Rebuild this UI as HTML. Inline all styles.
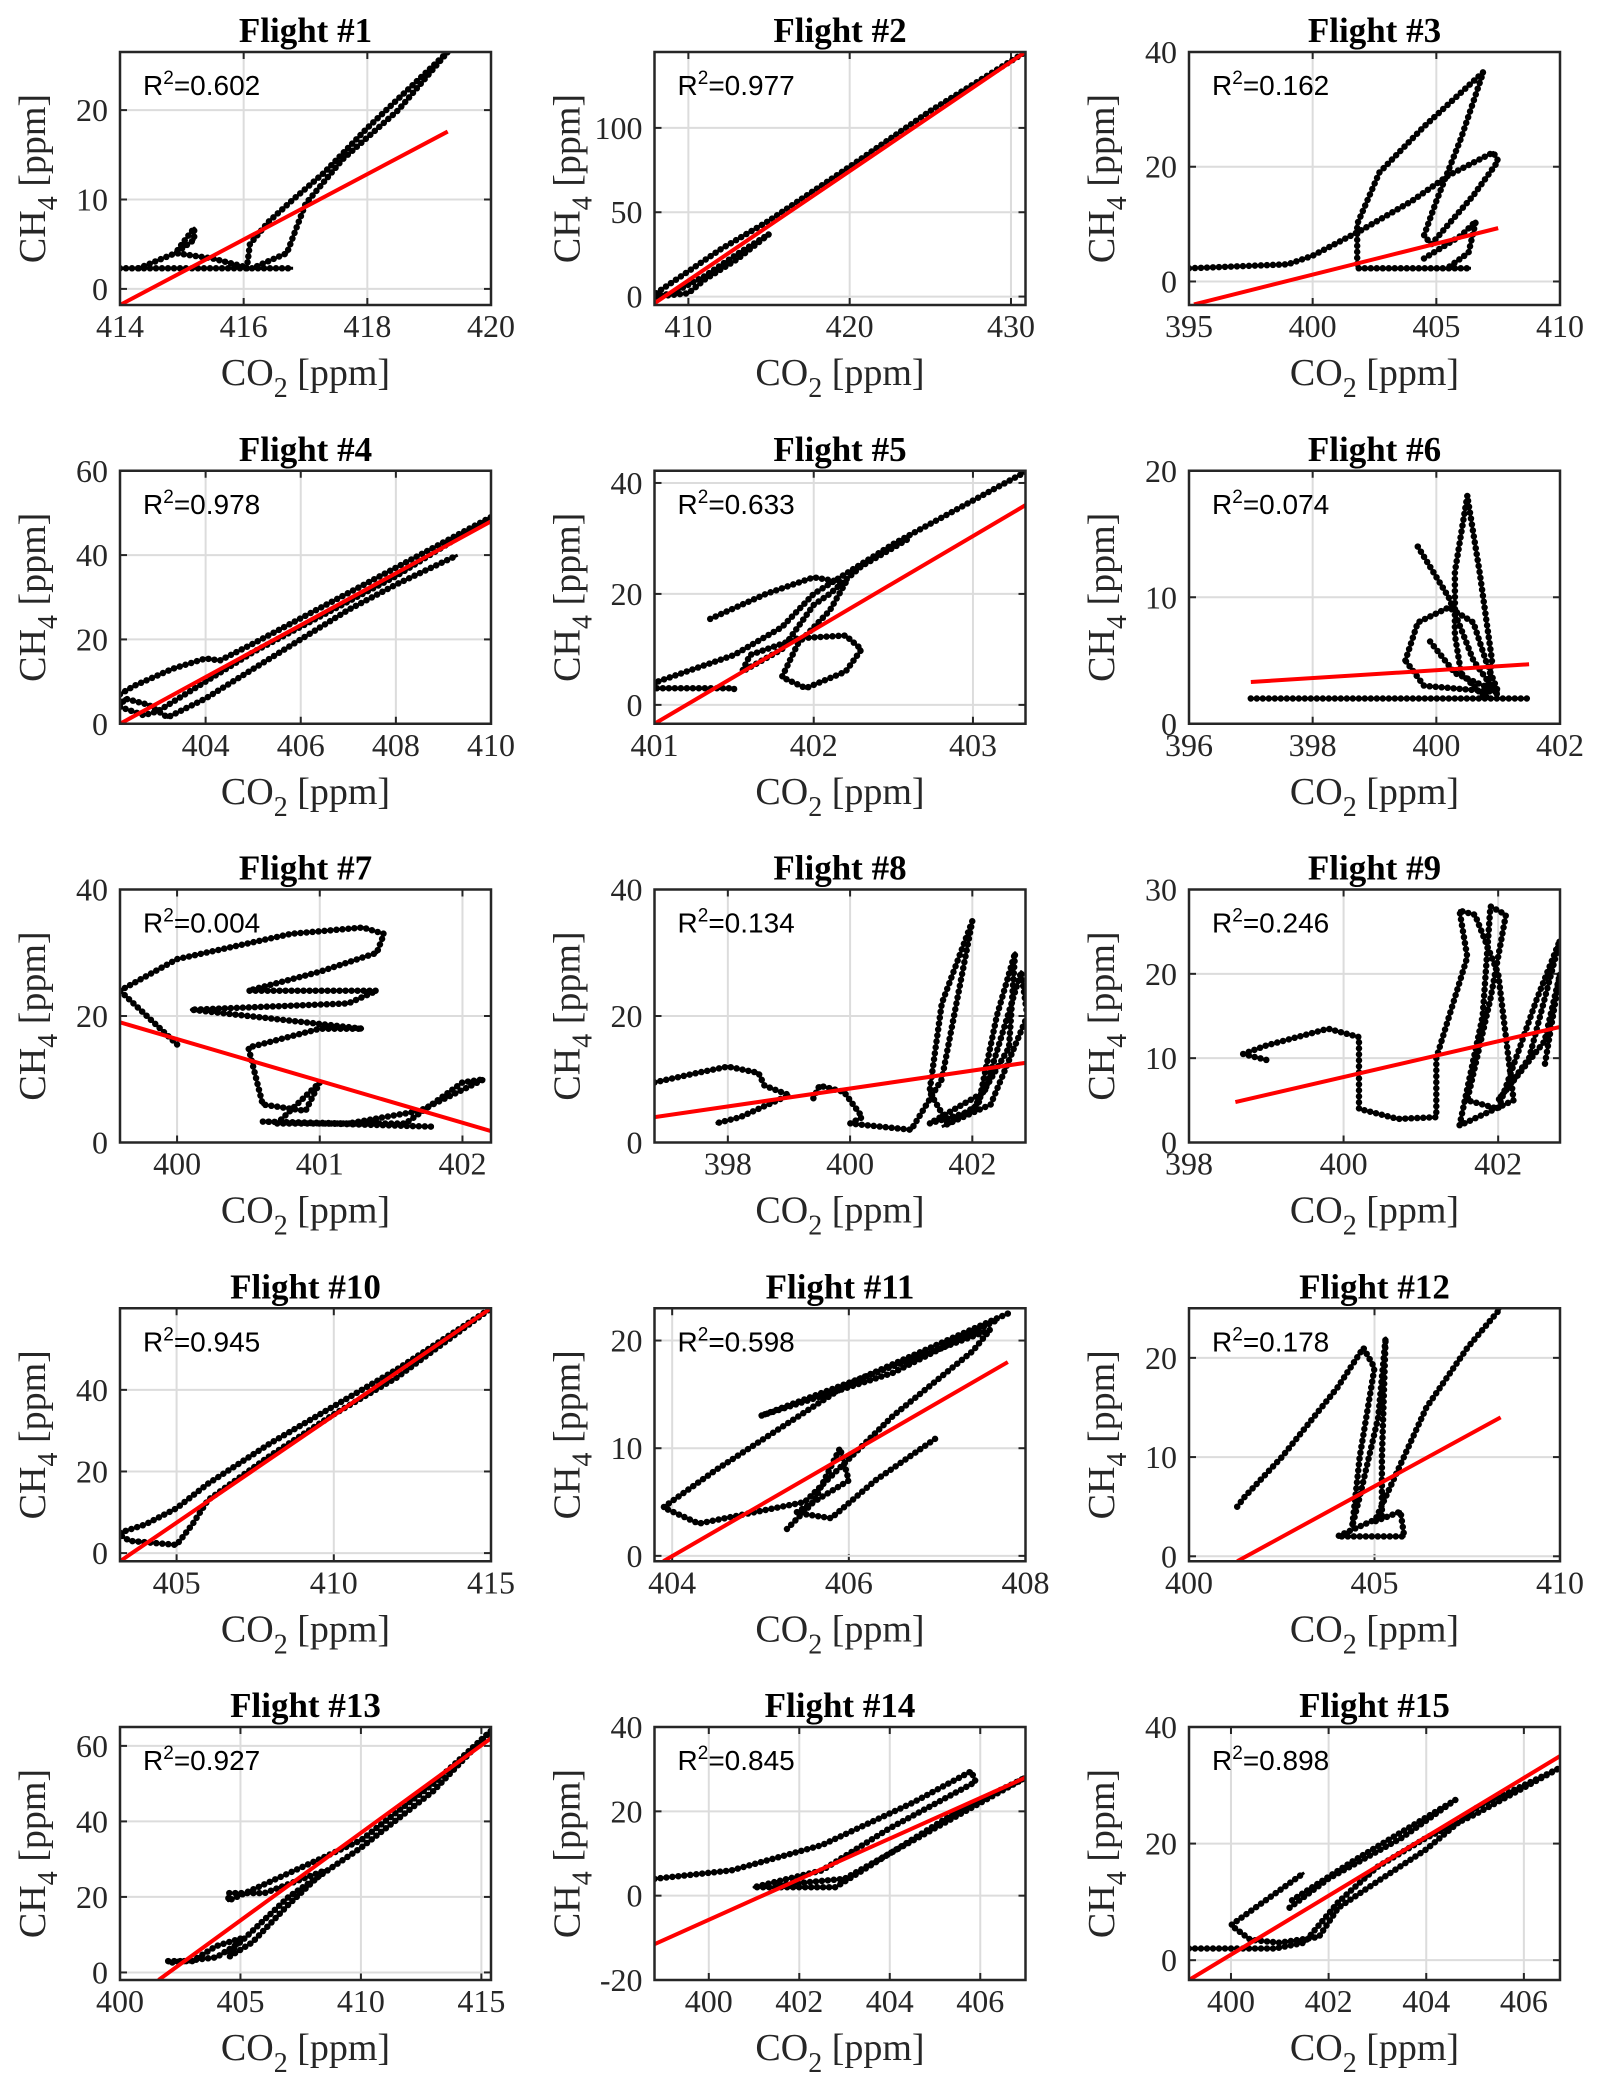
<!DOCTYPE html>
<html><head><meta charset="utf-8">
<style>
html,body{margin:0;padding:0;background:#fff;}
svg{display:block;}
.tit{font-family:"Liberation Serif",serif;font-weight:bold;font-size:35px;fill:#000;text-anchor:middle;}
.tick{font-family:"Liberation Serif",serif;font-size:32px;fill:#262626;}
.lab{font-family:"Liberation Serif",serif;font-size:38px;fill:#262626;}
.r2{font-family:"Liberation Sans","DejaVu Sans",sans-serif;font-size:28px;fill:#000;}
</style></head>
<body>
<svg id="fig" width="1600" height="2093" viewBox="0 0 1600 2093" xmlns="http://www.w3.org/2000/svg"></svg>
<script>
const titles = ["Flight #1","Flight #2","Flight #3","Flight #4","Flight #5","Flight #6","Flight #7","Flight #8","Flight #9","Flight #10","Flight #11","Flight #12","Flight #13","Flight #14","Flight #15"];
const r2Values = ["0.602","0.977","0.162","0.978","0.633","0.074","0.004","0.134","0.246","0.945","0.598","0.178","0.927","0.845","0.898"];
const xLimits = [[414,420],[407.9,430.9],[395,410],[402.2,410],[401,403.33],[396,402],[399.6,402.2],[396.8,402.87],[398,402.8],[403.2,415],[403.8,408],[400,410],[400,415.4],[398.8,407],[399.14,406.74]];
const yLimits = [[-1.8,26.5],[-5,145],[-4.1,40],[0,60],[-3.4,42.2],[0,20],[0,40],[0,40],[0,30],[-2,60],[-0.5,23],[-0.5,25],[-2,65],[-20,40],[-3.4,40]];
const xTicks = [[414,416,418,420],[410,420,430],[395,400,405,410],[404,406,408,410],[401,402,403],[396,398,400,402],[400,401,402],[398,400,402],[398,400,402],[405,410,415],[404,406,408],[400,405,410],[400,405,410,415],[400,402,404,406],[400,402,404,406]];
const yTicks = [[0,10,20],[0,50,100],[0,20,40],[0,20,40,60],[0,20,40],[0,10,20],[0,20,40],[0,20,40],[0,10,20,30],[0,20,40],[0,10,20],[0,10,20],[0,20,40,60],[-20,0,20,40],[0,20,40]];
const fitLines = [[414,-1.8,419.3,17.6],[407.9,-4,430.9,145],[395.2,-4,407.5,9.3],[402.2,0,410,48],[401,-3.4,403.33,36],[397,3.3,401.5,4.7],[399.6,19,402.2,1.8],[396.8,4,402.87,12.6],[398.6,4.8,402.8,13.7],[403.2,-2,415,60],[403.9,-0.5,407.8,18],[401.3,-0.5,408.4,14],[401.6,-2,415.4,62],[398.8,-11.5,407,28],[399.14,-3.4,406.74,35]];
const tracks = [
 [[[414,2.3],[416.8,2.3]],[[414.3,2.3],[414.9,4],[415.2,5.5],[415.2,6.8],[415,5],[414.9,4],[415.5,3.4],[416,2.5]],[[416.05,2.3],[416.1,5],[416.4,7.5],[416.8,10],[417.3,13],[418,18],[419.3,26.5],[418.5,20],[417.6,14.5],[417,9.5],[416.7,4],[416.2,2.5]]],
 [[[408,2],[410,15],[412,28],[415,45],[420,77],[425,110],[430.9,145]],[[408,0],[410,2],[411,10],[413,22],[415,37],[413,25],[411,12],[409,2],[408,0]]],
 [[[395,2.3],[399,3],[400,4.5],[402,9],[404,14],[405.5,18.5],[407.3,22.5],[407.5,21],[406.5,15],[405.5,10],[404.8,6.5],[404.5,8],[405,14],[406,25],[406.9,36.5],[404.5,27],[402.7,19],[401.8,10],[401.8,2.3],[406.4,2.3]],[[404.5,4],[406,8],[406.6,10.5],[406.3,5],[405.5,2.5]]],
 [[[402.2,7],[402.5,9],[403.3,13],[404,15.5],[404.3,15],[405,19],[406,25],[407,31],[408,37],[409,43],[410,49],[409,42],[408,35],[407,29],[406,23],[405,17],[404,10],[403,3],[402.7,2],[402.2,4],[402.3,6],[402.8,4.5],[403.2,1.5],[404,6],[405,13],[406,20],[407,27],[408,33],[409.3,40]]],
 [[[403.33,42],[402.5,29],[402,20],[401.8,14],[401.5,9],[401,4],[401,3],[401.5,3],[401.5,2.5]],[[401.35,15.5],[401.7,20],[402,23],[402.2,22],[402.1,17],[401.9,11],[401.8,5],[401.95,3],[402.2,6],[402.3,10],[402.2,12.5],[401.9,12],[401.6,9],[401.55,6],[401.8,10],[402,18],[402.1,20],[402.3,25],[402.6,30]]],
 [[[397,2],[401.5,2]],[[399.7,14],[400.2,10],[400.6,5],[401,2.2]],[[400.5,18],[400.3,12],[400.3,7],[400.4,4],[400.8,2],[400.9,5],[400.7,12],[400.5,18]],[[399.5,5],[399.7,8],[400.2,9.2],[400.6,8],[400.8,5],[401,2.5],[399.8,3],[399.5,5]],[[399.9,6.5],[400.3,4],[401,2.5]]],
 [[[400,15.5],[399.6,24],[400,29],[400.8,33],[401.3,34],[401.45,33],[401.4,30],[401,27],[400.5,24],[401.4,24],[401.2,22],[400.1,21],[400.5,20],[401.3,18],[401,18],[400.5,15],[400.6,6],[400.9,5],[401,9.5],[400.7,3],[401.6,3],[402,9.5],[402.15,10],[401.7,5],[401.2,3],[400.6,3.3],[401.8,2.5]]],
 [[[396.8,9.5],[397.5,11],[398,12],[398.5,11],[398.6,9],[399,7.5],[398.2,4],[397.8,3]],[[399.4,7],[399.5,9],[399.9,8],[400.2,4],[400,3],[401,2],[401.5,10],[401.8,25],[402,35],[401.5,22],[401.3,8],[401.6,3],[402.1,6],[402.4,20],[402.7,30],[402.6,15],[402,5],[401.3,3],[402.2,8],[402.8,27],[402.9,20],[402.3,6],[401.5,2.5]]],
 [[[399,9.8],[398.7,10.5],[399,11.5],[399.8,13.5],[400.2,12.5],[400.2,8],[400.2,4],[400.7,2.8],[401.2,3],[401.2,10],[401.6,22],[401.5,27.5],[401.7,27],[402,20],[402.2,5],[401.5,2],[401.8,15],[401.9,28],[402.1,27],[401.9,17],[401.6,5],[402,4],[402.5,17],[402.8,24],[402.4,10],[402,5],[402.6,12],[402.8,20],[402.6,9]]],
 [[[403.2,5],[404,7],[405,11],[406,17],[408,27],[410,36],[412,45],[415,60],[412,43],[410,34],[408,24],[406,13],[405.5,7],[405,2],[403.5,3],[403.2,4.5]]],
 [[[407.8,22.5],[406,16],[404.5,8],[403.9,4.5],[404.3,3],[405.5,5],[406.5,13],[407.4,19],[407.6,21],[405,13],[406.5,17],[407.7,22]],[[405.3,2.5],[405.6,5],[405.9,10],[406,7],[405.4,4],[405.8,3.5],[406.3,7],[407,11]]],
 [[[401.3,5],[401.5,6],[402.5,10],[404,17],[404.7,21],[405,19],[404.6,10],[404.4,3],[404.6,6],[405.1,14],[405.3,22],[405.2,10],[405.2,4],[404,2],[405.8,2],[405.7,4.5],[405,3.5],[406.4,15],[407.5,21],[408.4,25]]],
 [[[402,3],[403,3],[404,7],[405,9],[404.5,4],[405.5,8],[407,18],[408.5,27],[406,21],[404.5,21],[404.5,19],[410,35],[413,50],[415.4,64],[413,48],[410,33],[407,20],[405,8],[404,4],[402,2.5]]],
 [[[398.8,4],[400.5,6],[402.5,12],[404.5,22],[405.8,29.5],[405.9,27],[404,16],[402.5,6],[401,2],[402.8,2],[404,10],[405.5,20],[407,28],[405,16],[403,4],[401.5,2.5]]],
 [[[399.14,2],[400.9,2],[401.5,3],[401.8,6],[402.2,10],[403,16],[404,21],[405,25],[406.74,33],[406.5,32],[405,26],[404,19],[403,13.5],[402.2,9],[401.8,4],[401,3],[400.4,3.5],[400,6],[400.5,9],[401.5,15]],[[401.2,9],[402,14],[403.5,21],[404.6,27.5],[403.5,22],[402.5,17],[401.2,10]]]
];

const NS="http://www.w3.org/2000/svg";
const fig=document.getElementById('fig');
function mk(tag,attrs,parent){const e=document.createElementNS(NS,tag);for(const k in attrs)e.setAttribute(k,attrs[k]);parent.appendChild(e);return e;}
const W=371,H=253;
for(let i=0;i<15;i++){
  const col=i%3,row=Math.floor(i/3);
  const L=120+col*534.5,T=52+row*418.75;
  const g=mk('g',{},fig);
  
  
  const [x0,x1]=xLimits[i],[y0,y1]=yLimits[i];
  const sx=v=>L+(v-x0)/(x1-x0)*W;
  const sy=v=>T+H-(v-y0)/(y1-y0)*H;
  xTicks[i].forEach(v=>{const x=sx(v);
    const gl=mk('line',{x1:x,x2:x,y1:T,y2:T+H,stroke:'#dcdcdc','stroke-width':2},g);
    
    mk('line',{x1:x,x2:x,y1:T+H,y2:T+H-7,stroke:'#262626','stroke-width':2},g);
    mk('line',{x1:x,x2:x,y1:T,y2:T+7,stroke:'#262626','stroke-width':2},g);
    const t=mk('text',{x:x,y:T+H+32,'text-anchor':'middle',class:'tick'},g);t.textContent=v;
    
  });
  yTicks[i].forEach(v=>{const y=sy(v);
    const gl=mk('line',{x1:L,x2:L+W,y1:y,y2:y,stroke:'#dcdcdc','stroke-width':2},g);
    
    mk('line',{x1:L,x2:L+7,y1:y,y2:y,stroke:'#262626','stroke-width':2},g);
    mk('line',{x1:L+W,x2:L+W-7,y1:y,y2:y,stroke:'#262626','stroke-width':2},g);
    const t=mk('text',{x:L-12,y:y+11,'text-anchor':'end',class:'tick'},g);t.textContent=v;
    
  });
  const cp=mk('clipPath',{id:'cp'+i},g);mk('rect',{x:L,y:T,width:W,height:H},cp);
  const dg=mk('g',{'clip-path':'url(#cp'+i+')'},g);
  tracks[i].forEach(tr=>{
    const d=tr.map((p,k)=>(k?'L':'M')+sx(p[0]).toFixed(1)+' '+sy(p[1]).toFixed(1)).join(' ');
    const pl=mk('path',{d:d,fill:'none',stroke:'#000','stroke-width':3,'stroke-linejoin':'round'},dg);
    
    const dots=mk('path',{d:d,fill:'none',stroke:'#000','stroke-width':6.5,'stroke-linecap':'round','stroke-dasharray':'0 6'},dg);
    
  });
  const f=fitLines[i];
  const fl=mk('line',{x1:sx(f[0]),y1:sy(f[1]),x2:sx(f[2]),y2:sy(f[3]),stroke:'#ff0000','stroke-width':4},dg);
  
  const box=mk('rect',{x:L,y:T,width:W,height:H,fill:'none',stroke:'#262626','stroke-width':2.5},g);
  
  const r=mk('text',{x:L+23,y:T+43,class:'r2'},g);
  
  r.innerHTML='R<tspan dy="-11" font-size="19">2</tspan><tspan dy="11">='+r2Values[i]+'</tspan>';
  const tt=mk('text',{x:L+W/2,y:T-10,class:'tit'},g);tt.textContent=titles[i];
  
  const xl=mk('text',{x:L+W/2,y:T+H+80,'text-anchor':'middle',class:'lab'},g);
  xl.innerHTML='CO<tspan dy="12" font-size="28">2</tspan><tspan dy="-12"> [ppm]</tspan>';
  
  const yl=mk('text',{x:0,y:0,'text-anchor':'middle',class:'lab',transform:'translate('+(L-75)+','+(T+H/2)+') rotate(-90)'},g);
  yl.innerHTML='CH<tspan dy="12" font-size="28">4</tspan><tspan dy="-12"> [ppm]</tspan>';
  
}
</script>
</body></html>
